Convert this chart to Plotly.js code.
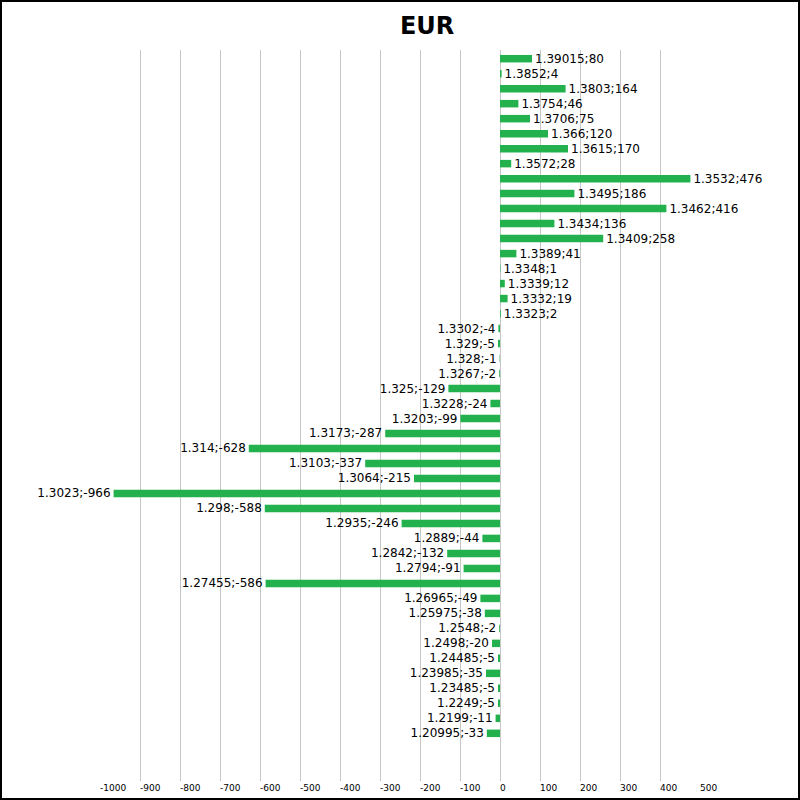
<!DOCTYPE html>
<html>
<head>
<meta charset="utf-8">
<script src="https://cdn.plot.ly/plotly-3.0.1.min.js"></script>
<style>
  body { margin: 0; padding: 0; background: #fff; }
  #plotArea { width: 796px; height: 796px; border: 2px solid #000; }
</style>
</head>
<body>
<div id="plotArea"></div>
<script>
// prices, top to bottom as in the chart
var prices = ["1.39015", "1.3852", "1.3803", "1.3754", "1.3706", "1.366", "1.3615", "1.3572",
    "1.3532", "1.3495", "1.3462", "1.3434", "1.3409", "1.3389", "1.3348", "1.3339", "1.3332",
    "1.3323", "1.3302", "1.329", "1.328", "1.3267", "1.325", "1.3228", "1.3203", "1.3173",
    "1.314", "1.3103", "1.3064", "1.3023", "1.298", "1.2935", "1.2889", "1.2842", "1.2794",
    "1.27455", "1.26965", "1.25975", "1.2548", "1.2498", "1.24485", "1.23985", "1.23485",
    "1.2249", "1.2199", "1.20995"];

var volumes = [80, 4, 164, 46, 75, 120, 170, 28,
    476, 186, 416, 136, 258, 41, 1, 12, 19,
    2, -4, -5, -1, -2, -129, -24, -99, -287,
    -628, -337, -215, -966, -588, -246, -44, -132, -91,
    -586, -49, -38, -2, -20, -5, -35, -5,
    -5, -11, -33];

var tickVals = [-1000, -900, -800, -700, -600, -500, -400, -300, -200, -100, 0, 100, 200, 300, 400, 500];

var labels = prices.map(function(p, i) {
    return p + ";" + volumes[i];
});

var trace = {
    type: "bar",
    orientation: "h",
    y: prices,
    x: volumes,
    text: labels,
    textposition: "outside",
    constraintext: "none",
    cliponaxis: false,
    textfont: {family: "DejaVu Sans", size: 12, color: "#000"},
    marker: {color: "#22b14c"},
    hoverinfo: "text"
};

var layout = {
    width: 796,
    height: 796,
    margin: {l: 98, r: 98, t: 48, b: 17},
    paper_bgcolor: "#fff",
    plot_bgcolor: "#fff",
    showlegend: false,
    bargap: 0.5,
    title: {
        text: "<b>EUR</b>",
        font: {family: "DejaVu Sans", size: 24, color: "#000"},
        xref: "container",
        x: 0.534,
        xanchor: "center",
        yref: "container",
        y: 0.97,
        yanchor: "middle"
    },
    xaxis: {
        range: [-1000, 500],
        tickvals: tickVals,
        ticktext: tickVals.map(function(v) { return String(v); }),
        ticklabelposition: "outside right",
        tickfont: {family: "DejaVu Sans", size: 9, color: "#000"},
        showgrid: true,
        gridcolor: "#c6c6c6",
        gridwidth: 1,
        zeroline: true,
        zerolinecolor: "#c6c6c6",
        zerolinewidth: 1,
        showline: false,
        ticks: "",
        automargin: false,
        fixedrange: true
    },
    yaxis: {
        type: "category",
        range: [48.18, -0.58],
        showticklabels: false,
        showgrid: false,
        zeroline: false,
        showline: false,
        ticks: "",
        automargin: false,
        fixedrange: true
    }
};

Plotly.newPlot("plotArea", [trace], layout, {displayModeBar: false, staticPlot: true});
</script>
</body>
</html>
